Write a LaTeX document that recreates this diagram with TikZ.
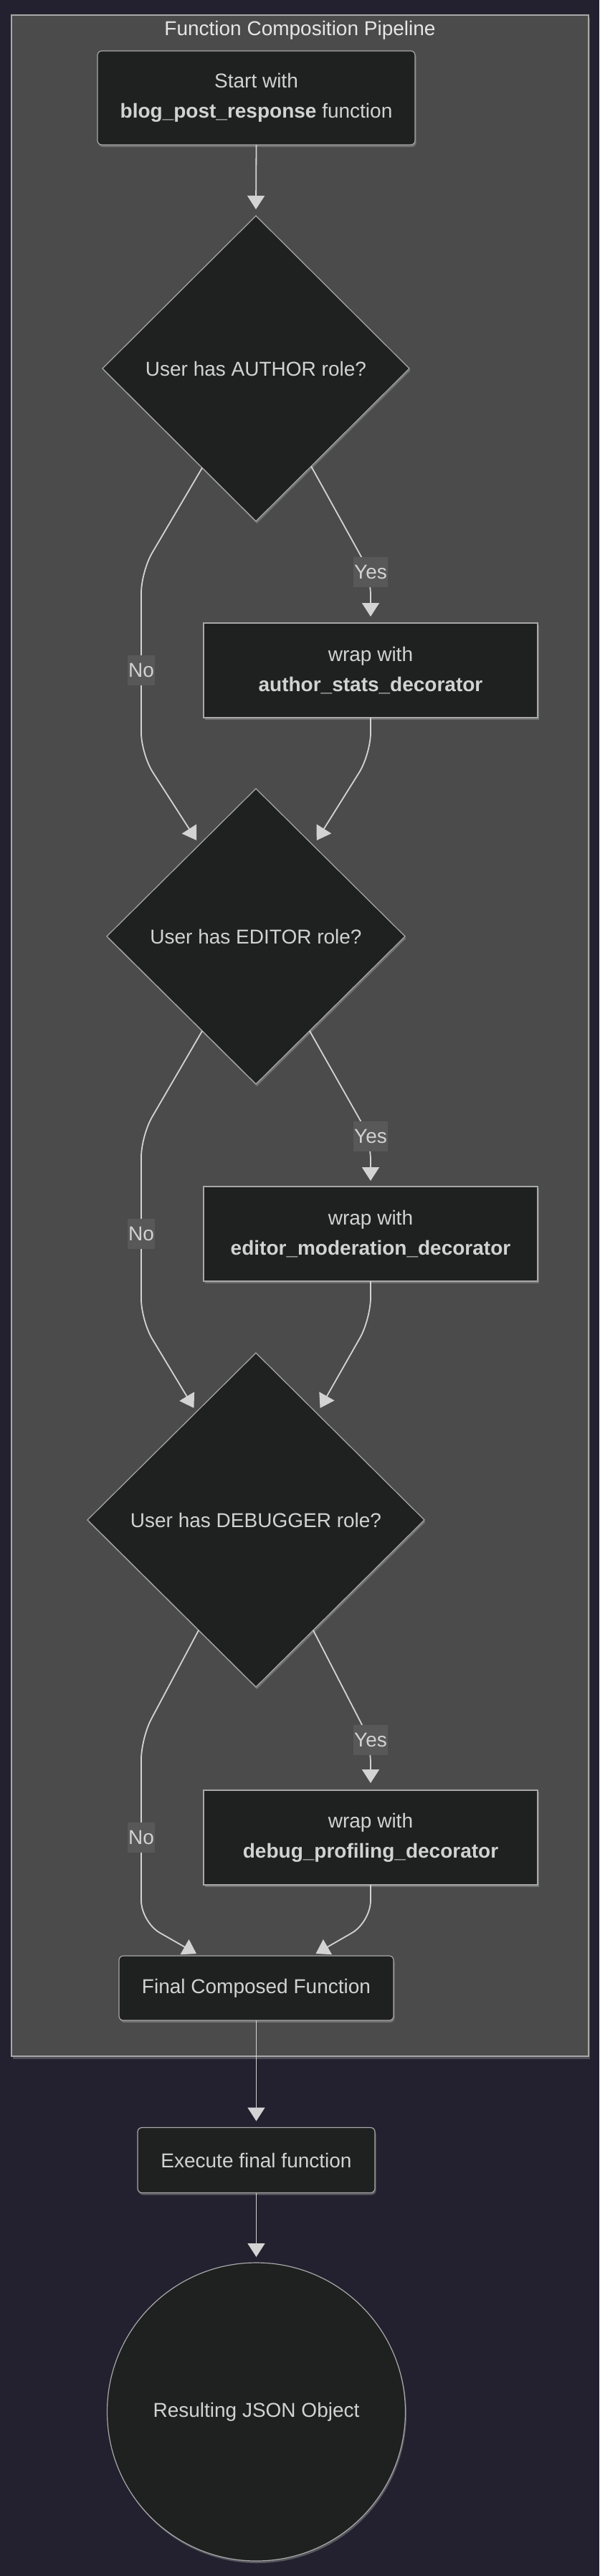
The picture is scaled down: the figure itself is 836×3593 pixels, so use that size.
\documentclass[tikz,border=0pt]{standalone}
\usepackage{fontspec}
\setmainfont{Liberation Sans}
\usetikzlibrary{shapes.geometric,arrows.meta,calc,shadows}
\definecolor{bg}{HTML}{23212F}
\definecolor{clusterfill}{HTML}{4A4B4A}
\definecolor{clusterline}{HTML}{A8A8A8}
\definecolor{nodefill}{HTML}{1F2120}
\definecolor{nodeline}{HTML}{A8A8A8}
\definecolor{txt}{HTML}{D2D2D2}
\definecolor{titlecol}{HTML}{E6E6E6}
\definecolor{edgecol}{HTML}{D3D3D3}
\definecolor{lblfill}{HTML}{585858}
\definecolor{glowcol}{HTML}{B8B8B8}
\begin{document}
\begin{tikzpicture}[x=1pt,y=-1pt,
  font=\fontsize{28}{42}\selectfont,
  glow/.style={drop shadow={fill=glowcol,opacity=0.35,shadow xshift=1.5pt,shadow yshift=-3pt}},
  box/.style={draw=nodeline,line width=1.2pt,fill=nodefill,text=txt,inner sep=0pt,outer sep=0pt,align=center,glow},
  roundbox/.style={box,rounded corners=6pt},
  decision/.style={box,shape=diamond,aspect=1},
  wrapbox/.style={box,minimum width=466pt,minimum height=132pt},
  cluster/.style={draw=clusterline,line width=1.5pt,fill=clusterfill,inner sep=0pt,outer sep=0pt,
    drop shadow={fill=glowcol,opacity=0.3,shadow xshift=1.5pt,shadow yshift=-4pt}},
  conn/.style={draw=edgecol,line width=1.8pt,-{Triangle[length=19pt,width=24pt]},rounded corners=30pt},
  lbl/.style={fill=lblfill,text=txt,inner xsep=1pt,inner ysep=0pt,minimum height=42pt},
]
\useasboundingbox (0,0) rectangle (836,3593);
\fill[bg] (0,0) rectangle (836,3593);

\node[cluster,minimum width=805pt,minimum height=2847pt] (cl) at (418.5,1444.5) {};
\node[text=titlecol] (title) at (418.5,42) {Function Composition Pipeline};

\node[roundbox,minimum width=443pt,minimum height=131pt] (start) at (357.5,136.5)
  {Start with\\\textbf{blog\_post\_response} function};
\node[decision,minimum width=428pt,minimum height=426pt] (d1) at (357,514) {User has AUTHOR role?};
\node[wrapbox] (auth) at (517,935) {wrap with\\\textbf{author\_stats\_decorator}};
\node[decision,minimum width=416pt,minimum height=412pt] (d2) at (357,1306) {User has EDITOR role?};
\node[wrapbox] (edit) at (517,1721) {wrap with\\\textbf{editor\_moderation\_decorator}};
\node[decision,minimum width=470pt,minimum height=466pt] (d3) at (357,2120) {User has DEBUGGER role?};
\node[wrapbox] (dbg) at (517,2563) {wrap with\\\textbf{debug\_profiling\_decorator}};
\node[roundbox,minimum width=383pt,minimum height=90pt] (final) at (357.5,2773) {Final Composed Function};
\node[roundbox,minimum width=331pt,minimum height=91pt] (exec) at (357.5,3013) {Execute final function};
\node[box,circle,minimum size=416pt] (res) at (357.5,3364) {Resulting JSON Object};

% connectors
\draw[conn] (start.south) -- ($(d1.north)+(0,-9)$);
\draw[conn] ($(d1.south)!0.35!(d1.west)$) -- (197,797) -- (197,1052) -- ($(d2.north)!0.35!(d2.west)+(-10,0)$);
\draw[conn] ($(d1.south)!0.36!(d1.east)$) -- (517,800) -- ($(auth.north)+(0,-9)$);
\draw[conn] (auth.south) -- (517,1052) -- ($(d2.north)!0.35!(d2.east)+(12,0)$);

\draw[conn] ($(d2.south)!0.36!(d2.west)$) -- (197,1584) -- (197,1842) -- ($(d3.north)!0.33!(d3.west)+(-9,0)$);
\draw[conn] ($(d2.south)!0.36!(d2.east)$) -- (517,1588) -- ($(edit.north)+(0,-8)$);
\draw[conn] (edit.south) -- (517,1840) -- ($(d3.north)!0.33!(d3.east)+(12,0)$);

\draw[conn] ($(d3.south)!0.34!(d3.west)$) -- (197,2424) -- (197,2681) -- ($(final.north)+(-83.5,-3)$);
\draw[conn] ($(d3.south)!0.34!(d3.east)$) -- (517,2429) -- ($(dbg.north)+(0,-10)$);
\draw[conn] (dbg.south) -- (517,2681) -- ($(final.north)+(83,-3)$);

\draw[conn] (final.south) -- ($(exec.north)+(0,-9)$);
\draw[conn] (exec.south) -- ($(res.north)+(0,-8)$);

% edge labels
\node[lbl] (yes1) at (517,798) {Yes};
\node[lbl] (no1) at (197,935) {No};
\node[lbl] (yes2) at (517,1585) {Yes};
\node[lbl] (no2) at (197,1721) {No};
\node[lbl] (yes3) at (517,2427) {Yes};
\node[lbl] (no3) at (197,2563) {No};
\end{tikzpicture}
\end{document}
